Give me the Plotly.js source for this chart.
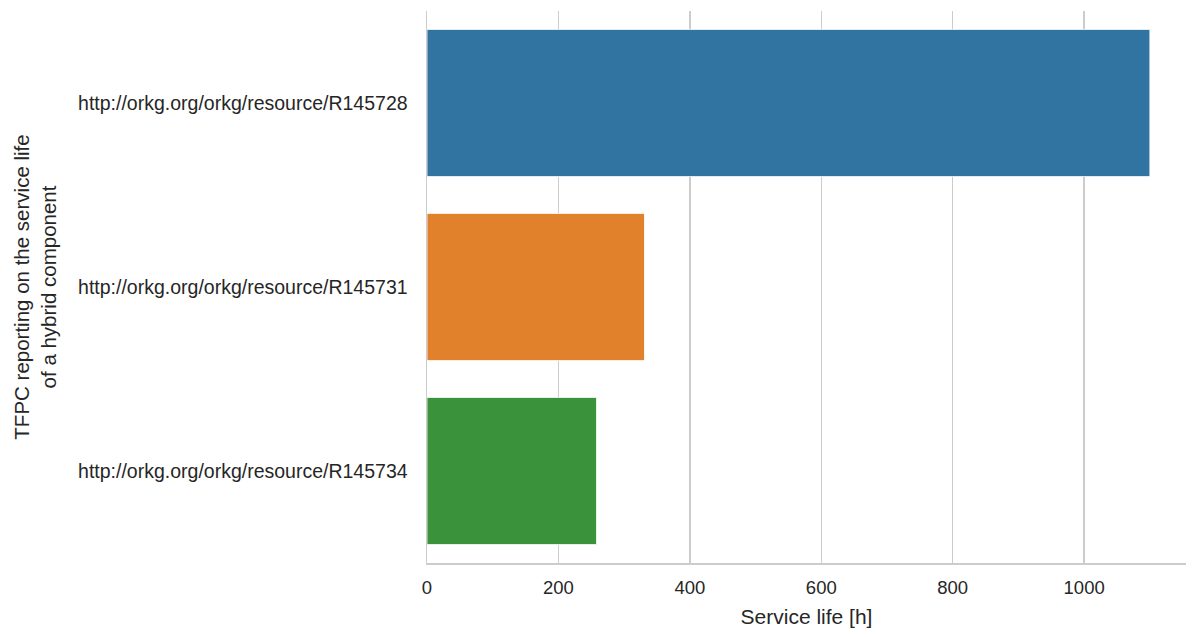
<!DOCTYPE html>
<html>
<head>
<meta charset="utf-8">
<script src="https://cdn.plot.ly/plotly-3.0.1.min.js"></script>
<style>
  html, body { margin: 0; padding: 0; background: #fff; }
  #chart { width: 1200px; height: 637px; }
</style>
</head>
<body>
<div id="chart"></div>
<script>
// service life per contribution

var resources = [
  "http://orkg.org/orkg/resource/R145728",
  "http://orkg.org/orkg/resource/R145731",
  "http://orkg.org/orkg/resource/R145734"
];
var serviceLife = [1100, 331, 258];
var barColors = ["#3274a1", "#e1812c", "#3a923a"];
var xTicks = [0, 200, 400, 600, 800, 1000];

var trace = {
  type: "bar",
  orientation: "h",
  x: serviceLife,
  y: resources,
  marker: {color: barColors, line: {color: "#ffffff", width: 0.8}},
  hoverinfo: "x+y"
};

var layout = {
  width: 1200,
  height: 637,
  margin: {l: 427, r: 14, t: 11, b: 74},
  paper_bgcolor: "#ffffff",
  plot_bgcolor: "#ffffff",
  font: {family: "Liberation Sans, Arial, sans-serif", size: 18.5, color: "#262626"},
  showlegend: false,
  bargap: 0.2,
  xaxis: {
    title: {text: "Service life [h]", font: {size: 21}, standoff: 12},
    range: [0, 1155],
    tickvals: xTicks,
    ticktext: xTicks.map(String),
    tickfont: {size: 18.5},
    showgrid: true,
    gridcolor: "#cccccc",
    gridwidth: 1.5,
    zeroline: false,
    showline: true,
    linecolor: "#cccccc",
    linewidth: 1.5,
    ticks: "",
    ticklabelstandoff: 7
  },
  yaxis: {
    title: {text: "TFPC reporting on the service life<br>of a hybrid component", font: {size: 20.5}, standoff: 16},
    type: "category",
    categoryorder: "array",
    categoryarray: resources,
    autorange: "reversed",
    tickfont: {size: 19.5},
    showgrid: false,
    zeroline: false,
    showline: true,
    linecolor: "#cccccc",
    linewidth: 1.5,
    ticks: "",
    ticklabelstandoff: 14
  }
};

Plotly.newPlot("chart", [trace], layout, {displayModeBar: false, staticPlot: true});
</script>
</body>
</html>
